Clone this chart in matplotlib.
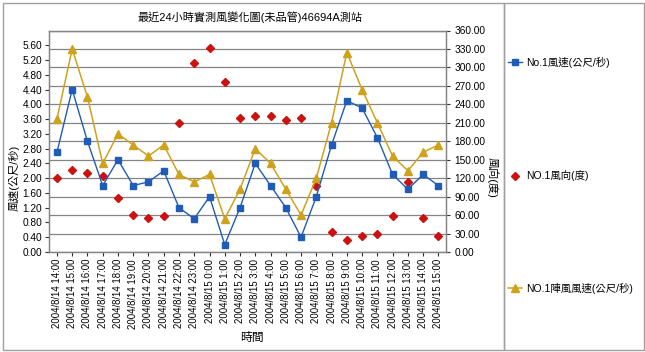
import numpy as np
import matplotlib
matplotlib.use('Agg')
import matplotlib.pyplot as plt
from matplotlib.patches import Rectangle

plt.rcParams['font.family'] = ['Liberation Sans', 'Noto Sans CJK TC', 'DejaVu Sans']

# ── Data ──────────────────────────────────────────────────────────────────────
times = ([f"2004/8/14 {h}:00" for h in range(14, 24)] +
         [f"2004/8/15 {h}:00" for h in range(0, 16)])

wind_speed = [2.7, 4.4, 3.0, 1.8, 2.5, 1.8, 1.9, 2.2, 1.2, 0.9, 1.5, 0.2, 1.2,
              2.4, 1.8, 1.2, 0.4, 1.5, 2.9, 4.1, 3.9, 3.1, 2.1, 1.7, 2.1, 1.8]
wind_dir = [120, 133, 129, 123, 88, 60, 56, 59, 209, 307, 331, 276, 218,
            221, 221, 215, 217, 108, 32, 20, 26, 29, 59, 114, 55, 26]
gust_speed = [3.6, 5.5, 4.2, 2.4, 3.2, 2.9, 2.6, 2.9, 2.1, 1.9, 2.1, 0.9, 1.7,
              2.8, 2.4, 1.7, 1.0, 2.0, 3.5, 5.4, 4.4, 3.5, 2.6, 2.2, 2.7, 2.9]

title = "最近24小時實測風變化圖(未品管)46694A測站"
label_speed = "No.1風速(公尺/秒)"
label_dir = "NO.1風向(度)"
label_gust = "NO.1陣風風速(公尺/秒)"

BLUE = '#1f5cb8'
RED = '#cc1111'
GOLD = '#cfa21d'
GRID = '#858585'

W, H = 645, 352
fig = plt.figure(figsize=(W / 100, H / 100), dpi=100)

# chart area / legend box borders
fig.patches.append(Rectangle((3 / W, 2 / H), 501 / W, 347 / H, transform=fig.transFigure,
                             fill=False, edgecolor='#a0a0a0', linewidth=1))
fig.patches.append(Rectangle((504 / W, 2 / H), 140 / W, 347 / H, transform=fig.transFigure,
                             fill=False, edgecolor='#a0a0a0', linewidth=1))

ax = fig.add_axes([49.3 / W, 1 - 252 / H, (446 - 49.3) / W, (252 - 30.5) / H])
ax2 = ax.twinx()

x = np.arange(len(times))

# ── Right axis (direction) carries the gridlines ─────────────────────────────
ax2.set_ylim(0, 360)
ax2.set_yticks(np.arange(0, 361, 30))
ax2.set_yticklabels([f"{v:.2f}" for v in np.arange(0, 361, 30)])
ax2.yaxis.grid(True, color=GRID, linewidth=0.9)
ax2.set_axisbelow(True)
d, = ax2.plot(x, wind_dir, linestyle='none', marker='D', markersize=4.2,
              color=RED, label=label_dir, zorder=3)

# ── Left axis (speeds) ───────────────────────────────────────────────────────
ax.set_zorder(ax2.get_zorder() + 1)
ax.patch.set_visible(False)
g, = ax.plot(x, gust_speed, color=GOLD, linewidth=1.1, marker='^',
             markersize=5.5, label=label_gust)
s, = ax.plot(x, wind_speed, color=BLUE, linewidth=1.0, marker='s',
             markersize=3.8, label=label_speed)
ax.set_ylim(0, 6.0)
ax.set_yticks(np.arange(0, 5.61, 0.4))
ax.set_yticklabels([f"{v:.2f}" for v in np.arange(0, 5.61, 0.4)])
ax.set_xlim(-0.5, len(times) - 0.5)
ax.set_xticks(x)
ax.set_xticklabels(times, rotation=90, fontsize=6.8)

for a in (ax, ax2):
    for sp in a.spines.values():
        sp.set_color(GRID)
        sp.set_linewidth(0.9)
    a.tick_params(colors='#333333', labelcolor='black', length=3, width=0.8,
                  labelsize=7.3)
ax.tick_params(axis='y', pad=2)
ax2.tick_params(axis='y', pad=3)
ax.tick_params(axis='x', pad=2, labelsize=6.9)

# ── Texts ─────────────────────────────────────────────────────────────────────
fig.text(250 / W, 1 - 17 / H, title, ha='center', va='center', fontsize=8)
fig.text(14 / W, 1 - 178 / H, "風速(公尺/秒)", rotation=90, ha='center',
         va='center', fontsize=8)
fig.text(493 / W, 1 - 177 / H, "風向(度)", rotation=-90, ha='center',
         va='center', fontsize=8)
fig.text(252 / W, 1 - 338 / H, "時間", ha='center', va='center', fontsize=8.5)

# ── Legend: three entries spread down the side box ───────────────────────────
for h, yy in ((s, 62), (d, 176), (g, 288)):
    fig.legend(handles=[h], loc='center left',
               bbox_to_anchor=(508 / W, 1 - yy / H), frameon=False,
               handlelength=1.3, handletextpad=0.4, borderpad=0,
               borderaxespad=0, fontsize=7.5)

fig.savefig('out.png', dpi=100)
